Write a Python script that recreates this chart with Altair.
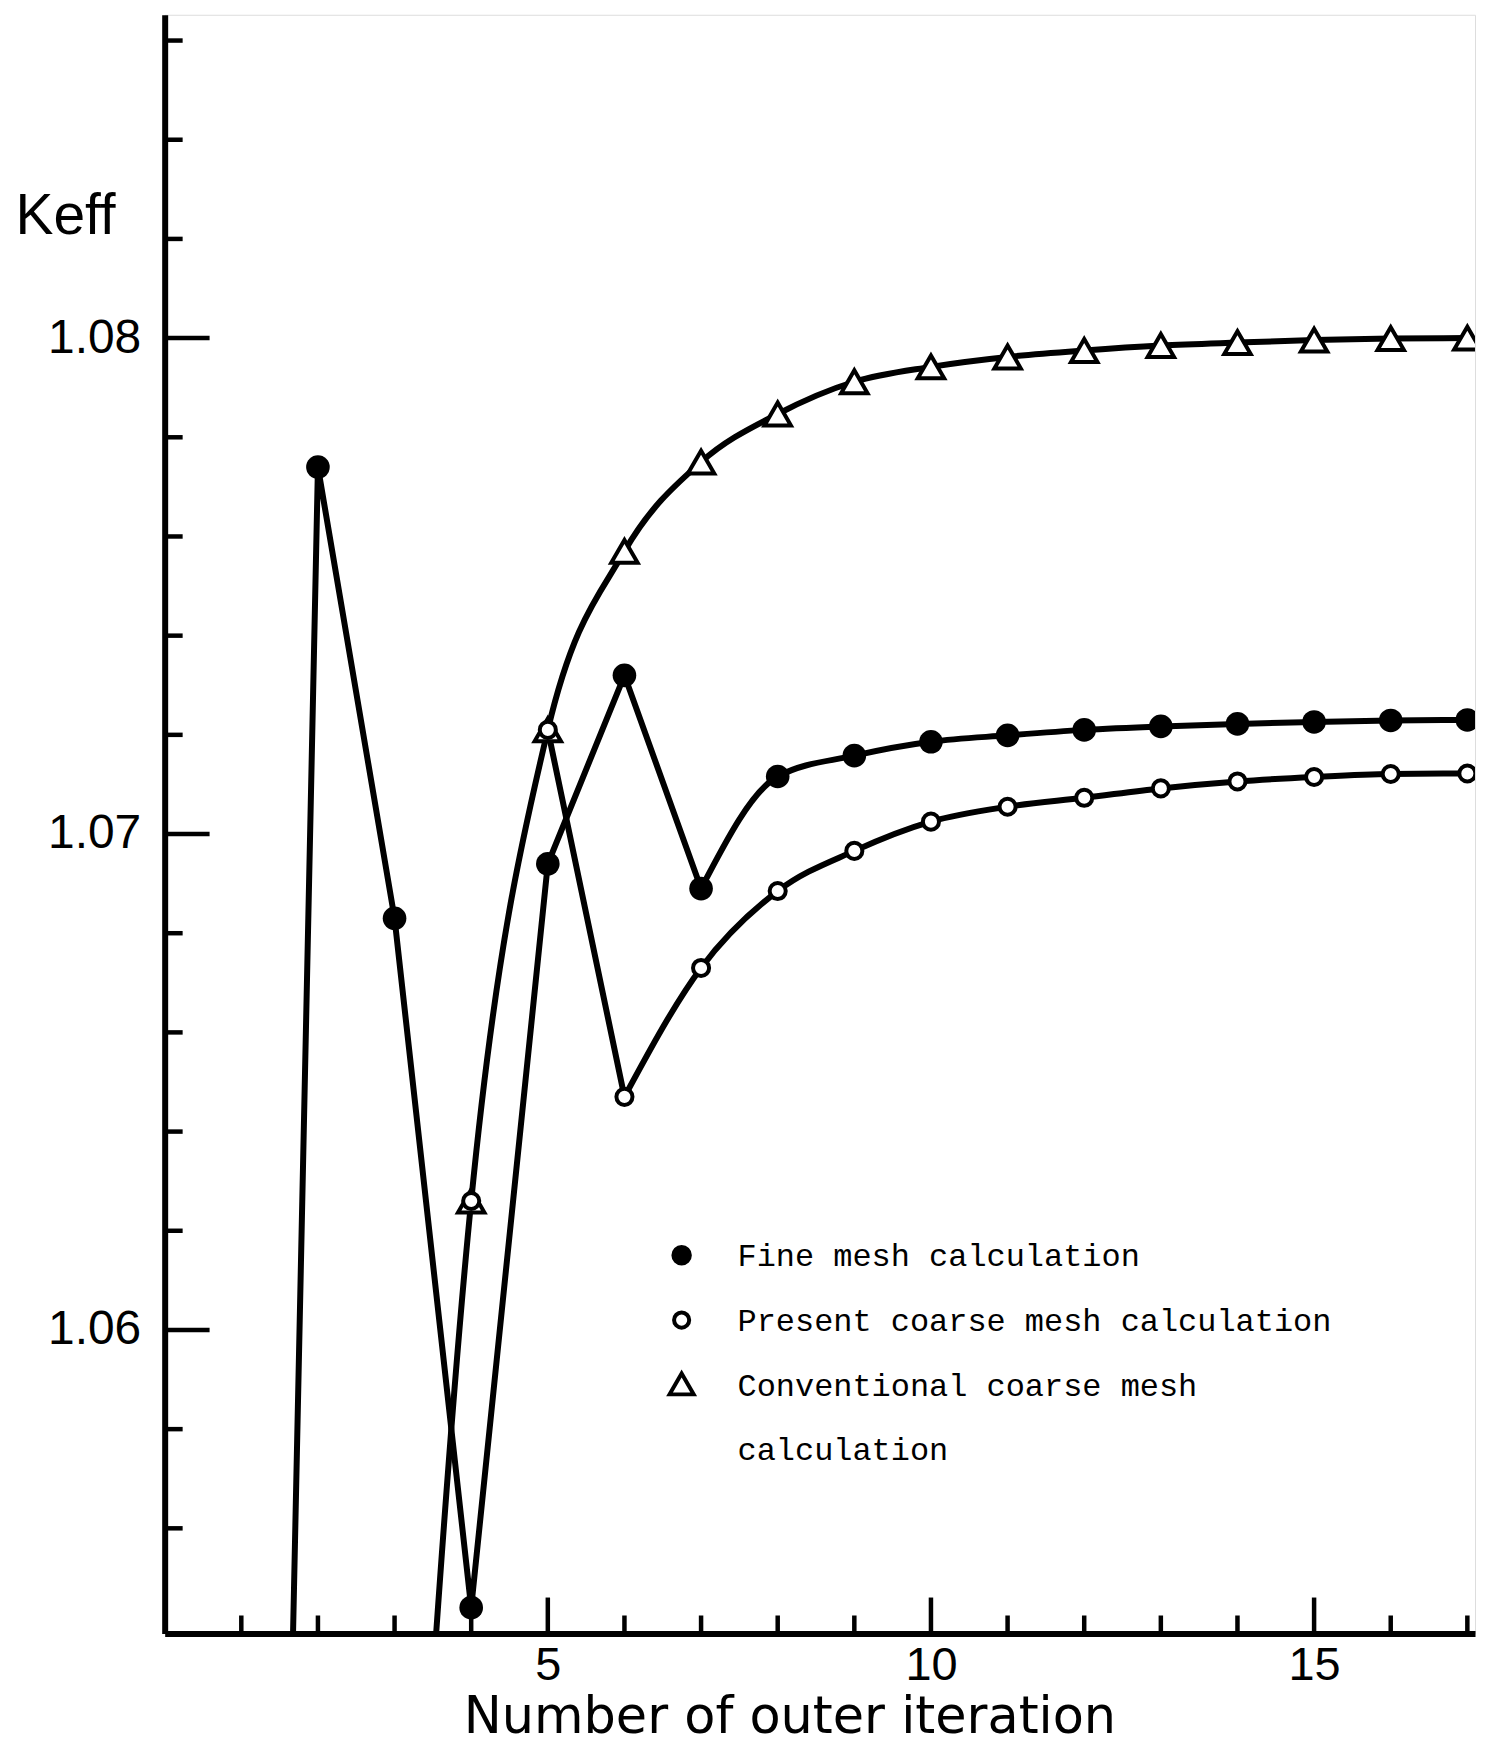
import altair as alt
import pandas as pd

# ---------------- data ----------------
iter_fine = list(range(1, 18))
keff_fine = [1.0050, 1.0774, 1.0683, 1.0544, 1.0694, 1.0732, 1.0689, 1.07116, 1.07158,
             1.07186, 1.07199, 1.07210, 1.07217, 1.07222, 1.07226, 1.07229, 1.07230]

iter_present = list(range(4, 18))
keff_present = [1.0626, 1.0721, 1.0647, 1.0673, 1.06885, 1.06966, 1.07025, 1.07055,
                1.07073, 1.07092, 1.07106, 1.07115, 1.07121, 1.07122]

iter_conv = list(range(3, 18))
keff_conv = [1.0410, 1.0626, 1.0721, 1.0757, 1.0775, 1.07847, 1.07912, 1.07942,
             1.07962, 1.07975, 1.07985, 1.07991, 1.07996, 1.07999, 1.08000]

legend_labels = ["Fine mesh calculation",
                 "Present coarse mesh calculation",
                 "Conventional coarse mesh calculation"]

x_label_values = [5, 10, 15]
y_label_values = [1.06, 1.07, 1.08]
x_major_ticks = [5, 10, 15]
x_minor_ticks = [1, 2, 3, 4, 6, 7, 8, 9, 11, 12, 13, 14, 16, 17]
y_major_ticks = [1.06, 1.07, 1.08]
y_minor_ticks = [1.056, 1.058, 1.062, 1.064, 1.066, 1.068, 1.072, 1.074,
                 1.076, 1.078, 1.082, 1.084, 1.086]
x_domain = [0, 17.1]
y_domain = [1.05388, 1.08652]

# ---------------- layout / style ----------------
W, H = 1313, 1622
SANS = "Liberation Sans Narrow, Liberation Sans, sans-serif"
MONO = "Liberation Mono, Courier New, monospace"
TRI = "M-1,0.866L1,0.866L0,-0.866Z"
LW = 6


def X():
    return alt.X("iter:Q",
                 scale=alt.Scale(domain=x_domain, nice=False, zero=False),
                 axis=alt.Axis(values=x_label_values, format="d", ticks=False, grid=False,
                               domainColor="black", domainWidth=6,
                               labelFont=SANS, labelFontSize=47, labelColor="black",
                               labelPadding=9, labelFlush=False,
                               title="Number of outer iteration", titleFont="DejaVu Sans",
                               titleFontSize=51, titleFontWeight="normal", titleColor="black",
                               titleX=626, titleY=99, titleBaseline="alphabetic",
                               titleAlign="center"))


def Y():
    return alt.Y("keff:Q",
                 scale=alt.Scale(domain=y_domain, nice=False, zero=False),
                 axis=alt.Axis(values=y_label_values, format=".2f", ticks=False, grid=False,
                               domainColor="black", domainWidth=6,
                               labelFont=SANS, labelFontSize=48, labelColor="black",
                               labelPadding=24, labelFlush=False,
                               title="Keff", titleFont=SANS, titleFontSize=57,
                               titleFontWeight="normal", titleColor="black",
                               titleAngle=0, titleAlign="left", titleBaseline="alphabetic",
                               titleX=-150, titleY=219))


fine = pd.DataFrame({"iter": iter_fine, "keff": keff_fine})
present = pd.DataFrame({"iter": iter_present, "keff": keff_present})
conv = pd.DataFrame({"iter": iter_conv, "keff": keff_conv})

fine_lin = fine[fine["iter"] <= 7]
fine_smooth = fine[fine["iter"] >= 7]
pres_lin = present[(present["iter"] >= 5) & (present["iter"] <= 6)]
pres_smooth = present[present["iter"] >= 6]

layers = []

# axis ticks (drawn inward)
layers.append(alt.Chart(pd.DataFrame({"iter": x_major_ticks})).mark_rule(color="black", strokeWidth=4.5)
              .encode(x=X(), y=alt.value(H), y2=alt.value(H - 36)))
layers.append(alt.Chart(pd.DataFrame({"iter": x_minor_ticks})).mark_rule(color="black", strokeWidth=4.5)
              .encode(x=X(), y=alt.value(H), y2=alt.value(H - 18)))
layers.append(alt.Chart(pd.DataFrame({"keff": y_major_ticks})).mark_rule(color="black", strokeWidth=4.5)
              .encode(y=Y(), x=alt.value(0), x2=alt.value(45)))
layers.append(alt.Chart(pd.DataFrame({"keff": y_minor_ticks})).mark_rule(color="black", strokeWidth=4.5)
              .encode(y=Y(), x=alt.value(0), x2=alt.value(18)))


# curves
def line(df, interp):
    return (alt.Chart(df).mark_line(color="black", strokeWidth=LW, clip=True,
                                    interpolate=interp, strokeCap="round", strokeJoin="miter")
            .encode(x=X(), y=Y(), order="iter:Q"))


layers.append(line(conv, "monotone"))
layers.append(line(pres_lin, "linear"))
layers.append(line(pres_smooth, "monotone"))
layers.append(line(fine_lin, "linear"))
layers.append(line(fine_smooth, "monotone"))

# markers
layers.append(alt.Chart(conv).mark_point(shape=TRI, size=700, filled=True, fill="white",
                                         stroke="black", strokeWidth=4, opacity=1, clip=True)
              .encode(x=X(), y=Y()))
layers.append(alt.Chart(present).mark_point(shape="circle", size=260, filled=True, fill="white",
                                            stroke="black", strokeWidth=4, opacity=1, clip=True)
              .encode(x=X(), y=Y()))
layers.append(alt.Chart(fine).mark_point(shape="circle", size=560, filled=True, fill="black",
                                         opacity=1, clip=True)
              .encode(x=X(), y=Y()))

# legend (annotation inside the plot)
SX, TX = 518, 574
rows_sym = [1243, 1308, 1372]
rows_txt = [1254, 1319, 1384]
leg_df = [pd.DataFrame({"label": [legend_labels[0]]}),
          pd.DataFrame({"label": [legend_labels[1]]}),
          pd.DataFrame({"label": [legend_labels[2].replace("mesh calculation", "mesh\ncalculation")]})]

layers.append(alt.Chart(leg_df[0]).mark_point(shape="circle", size=420, filled=True, fill="black", opacity=1)
              .encode(x=alt.value(SX), y=alt.value(rows_sym[0])))
layers.append(alt.Chart(leg_df[1]).mark_point(shape="circle", size=230, filled=True, fill="white",
                                              stroke="black", strokeWidth=4, opacity=1)
              .encode(x=alt.value(SX), y=alt.value(rows_sym[1])))
layers.append(alt.Chart(leg_df[2]).mark_point(shape=TRI, size=580, filled=True, fill="white",
                                              stroke="black", strokeWidth=4, opacity=1)
              .encode(x=alt.value(SX), y=alt.value(rows_sym[2])))
for i in range(3):
    layers.append(alt.Chart(leg_df[i]).mark_text(font=MONO, fontSize=32, color="black",
                                                 align="left", baseline="alphabetic",
                                                 lineBreak="\n", lineHeight=64)
                  .encode(text="label:N", x=alt.value(TX), y=alt.value(rows_txt[i])))

chart = (alt.layer(*layers)
         .properties(width=W, height=H,
                     autosize=alt.AutoSizeParams(type="none"),
                     padding={"left": 157, "top": 5, "right": 5, "bottom": 112})
         .configure_view(strokeWidth=0, stroke="transparent")
         .configure(background="white"))

chart.save("out.html", embed_options={"renderer": "svg", "actions": False})
